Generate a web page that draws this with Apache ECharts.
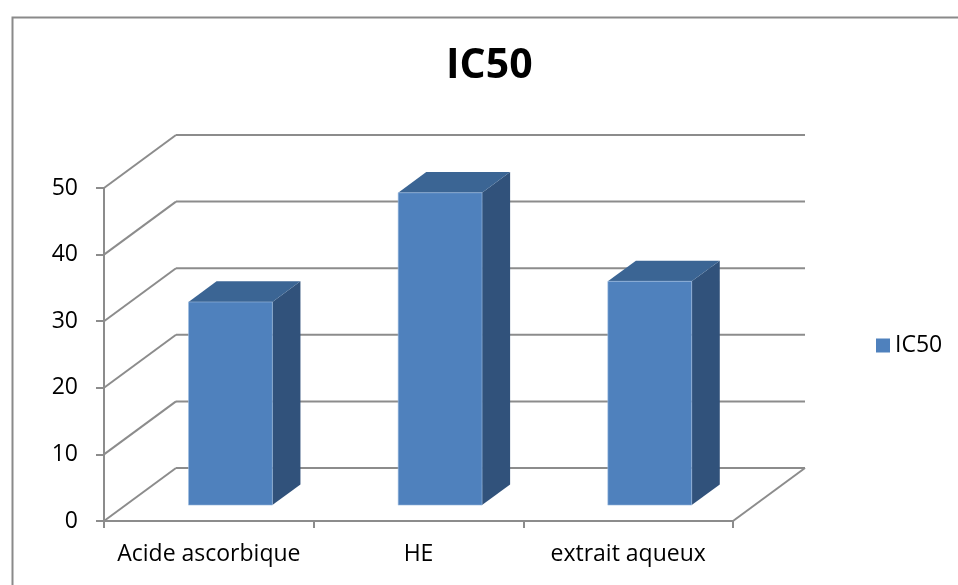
<!DOCTYPE html>
<html>
<head>
<meta charset="utf-8">
<title>IC50</title>
<script src="https://cdn.jsdelivr.net/npm/echarts@6/dist/echarts.min.js"></script>
<style>
  html, body { margin: 0; padding: 0; background: #fff; }
  #chart { width: 958px; height: 585px; }
</style>
</head>
<body>
<div id="chart"></div>
<script>
// Samples and their IC50 values
const categories = ['Acide ascorbique', 'HE', 'extrait aqueux'];
const ic50Values = [30.5, 46.9, 33.6];
// Value-axis ticks (also used for the back-wall grid)
const yTicks = [0, 10, 20, 30, 40, 50];

// Oblique projection of the depth axis, in pixels
const DEPTH_X = 72;
const DEPTH_Y = -53;
// Bars sit between these fractions of the depth
const BAR_FRONT = 0.3;
const BAR_BACK = 0.69;

const FONT = '"Open Sans", "Noto Sans", sans-serif';
const LINE = '#8c8c8c';

const chart = echarts.init(document.getElementById('chart'), null, { renderer: 'canvas' });

// Back wall gridlines, left-side connectors and the floor outline
function renderWall(params, api) {
  const cs = params.coordSys;
  const v = api.value(1);
  const y = api.coord([0, v])[1];
  const style = { stroke: LINE, lineWidth: 2, fill: null };
  const children = [
    { type: 'line', shape: { x1: cs.x, y1: y, x2: cs.x + DEPTH_X, y2: y + DEPTH_Y }, style },
    { type: 'line', shape: { x1: cs.x + DEPTH_X, y1: y + DEPTH_Y, x2: cs.x + cs.width + DEPTH_X, y2: y + DEPTH_Y }, style }
  ];
  if (v === yTicks[0]) {
    children.push({
      type: 'line',
      shape: { x1: cs.x + cs.width, y1: y, x2: cs.x + cs.width + DEPTH_X, y2: y + DEPTH_Y },
      style
    });
  }
  return { type: 'group', children };
}

// A 3D-looking column: front face, top face and right side
function renderBar(params, api) {
  const idx = api.value(0);
  const val = api.value(1);
  const top = api.coord([idx, val]);
  const base = api.coord([idx, 0]);
  const band = api.size([1, 0])[0];
  const w = band * 0.4;
  const x0 = top[0] - w / 2 + DEPTH_X * BAR_FRONT;
  const x1 = x0 + w;
  const yTop = top[1] + DEPTH_Y * BAR_FRONT;
  const yBot = base[1] + DEPTH_Y * BAR_FRONT;
  const ddx = DEPTH_X * (BAR_BACK - BAR_FRONT);
  const ddy = DEPTH_Y * (BAR_BACK - BAR_FRONT);
  return {
    type: 'group',
    children: [
      {
        type: 'polygon',
        shape: { points: [[x1, yTop], [x1 + ddx, yTop + ddy], [x1 + ddx, yBot + ddy], [x1, yBot]] },
        style: { fill: '#31527b' }
      },
      {
        type: 'polygon',
        shape: { points: [[x0, yTop], [x1, yTop], [x1 + ddx, yTop + ddy], [x0 + ddx, yTop + ddy]] },
        style: { fill: '#3b6594' }
      },
      {
        type: 'rect',
        shape: { x: x0, y: yTop, width: w, height: yBot - yTop },
        style: { fill: '#4f81bd', stroke: 'rgba(160,190,225,0.6)', lineWidth: 1 }
      }
    ]
  };
}

const option = {
  animation: false,
  backgroundColor: '#fff',
  textStyle: { fontFamily: FONT },
  title: {
    text: 'IC50',
    left: 446,
    top: 46,
    padding: 0,
    textStyle: { fontFamily: FONT, fontSize: 41, fontWeight: 'bold', color: '#000' }
  },
  legend: {
    data: ['IC50'],
    orient: 'vertical',
    left: 876,
    top: 334,
    padding: 0,
    itemWidth: 14,
    itemHeight: 14,
    icon: 'rect',
    textStyle: { fontFamily: FONT, fontSize: 23, color: '#000' }
  },
  grid: { left: 104, top: 188, width: 629, height: 333, containLabel: false },
  xAxis: {
    type: 'category',
    data: categories,
    boundaryGap: true,
    axisLine: { show: true, lineStyle: { color: LINE, width: 2 } },
    axisTick: { show: true, length: 7, interval: 0, lineStyle: { color: LINE, width: 2 } },
    axisLabel: { margin: 22, interval: 0, fontFamily: FONT, fontSize: 23, color: '#000' },
    splitLine: { show: false }
  },
  yAxis: {
    type: 'value',
    min: 0,
    max: 50,
    interval: 10,
    axisLine: { show: true, lineStyle: { color: LINE, width: 2 } },
    axisTick: { show: true, length: 8, lineStyle: { color: LINE, width: 2 } },
    axisLabel: { margin: 26, fontFamily: FONT, fontSize: 23, color: '#000' },
    splitLine: { show: false }
  },
  graphic: [
    {
      type: 'rect',
      left: 10,
      top: 15,
      shape: { x: 0, y: 0, width: 1000, height: 620 },
      style: { fill: null, stroke: '#8a8a8a', lineWidth: 2 },
      z: -1
    }
  ],
  series: [
    {
      name: 'wall',
      type: 'custom',
      z: 1,
      silent: true,
      renderItem: renderWall,
      data: yTicks.map(v => [0, v])
    },
    {
      name: 'IC50',
      type: 'custom',
      z: 3,
      itemStyle: { color: '#4f81bd' },
      renderItem: renderBar,
      data: ic50Values.map((v, i) => [i, v])
    }
  ]
};

chart.setOption(option);
</script>
</body>
</html>
